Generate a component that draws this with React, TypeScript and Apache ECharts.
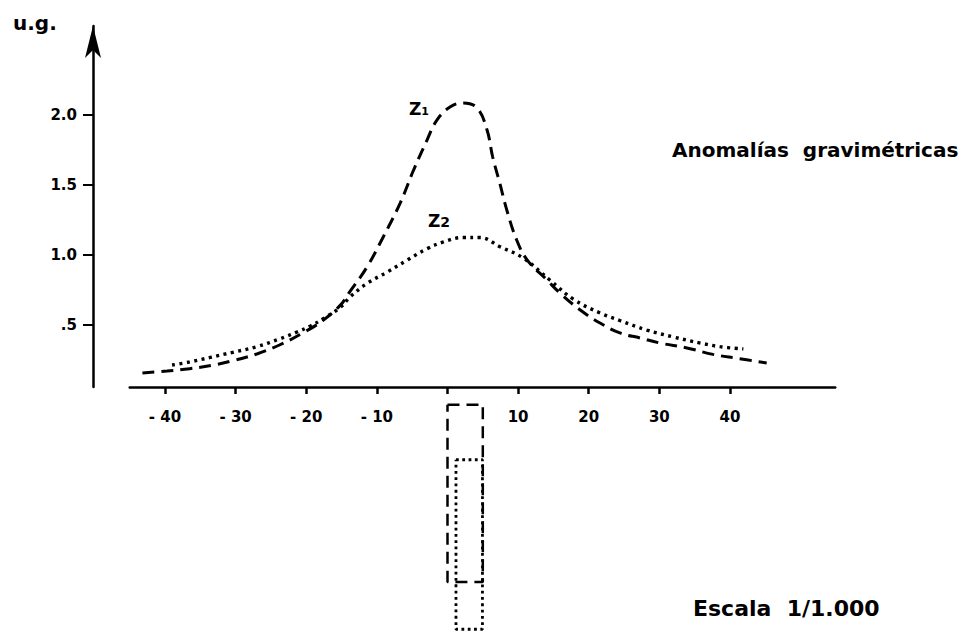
import React, { useEffect, useRef } from "react";
import * as echarts from "echarts";

// Z1 (dashed) : distance (m) vs anomaly (u.g.)
const z1X = [-43.2, -39.7, -36.5, -33.2, -30.4, -27.0, -23.8, -20.5, -17.7, -15.2, -13.8, -11.4, -9.1, -6.7, -4.8, -2.9, -1.5, 0.35, 2.2, 4.2, 5.6, 6.4, 7.4, 8.4, 9.8, 11.3, 14.1, 15.9, 18.8, 21.6, 24.4, 27.3, 30.1, 33.9, 37.6, 41.0, 45.2];
const z1Y = [0.157, 0.171, 0.188, 0.213, 0.245, 0.293, 0.357, 0.443, 0.53, 0.64, 0.74, 0.914, 1.129, 1.371, 1.607, 1.821, 1.964, 2.057, 2.086, 2.05, 1.893, 1.7, 1.514, 1.321, 1.107, 0.964, 0.821, 0.729, 0.607, 0.514, 0.443, 0.407, 0.371, 0.336, 0.29, 0.262, 0.229];

// Z2 (dotted)
const z2X = [-39.0, -36.5, -33.6, -30.4, -27.0, -23.8, -21.3, -19.5, -17.6, -15.2, -13.8, -11.3, -8.5, -5.7, -2.9, -0.6, 2.2, 4.6, 7.4, 10.7, 14.5, 17.8, 21.6, 24.4, 28.2, 32.0, 35.8, 38.6, 41.9];
const z2Y = [0.214, 0.236, 0.268, 0.305, 0.345, 0.4, 0.45, 0.49, 0.545, 0.625, 0.7, 0.8, 0.879, 0.964, 1.045, 1.093, 1.125, 1.125, 1.06, 0.979, 0.821, 0.685, 0.586, 0.532, 0.464, 0.414, 0.371, 0.345, 0.329];

// Source bodies (x in m, depth in m)
const body1X = [0, 5, 5, 0, 0];
const body1D = [2.5, 2.5, 27.6, 27.6, 2.5];
const body2X = [1.2, 4.95, 4.95, 1.2, 1.2];
const body2D = [10.3, 10.3, 34.3, 34.3, 10.3];

const xTicks = [-40, -30, -20, -10, 0, 10, 20, 30, 40];
const xLabelValues = [-40, -30, -20, -10, 10, 20, 30, 40];
const yTicks = [0.5, 1, 1.5, 2];
const yLabelText: Record<string, string> = { "0.5": ".5", "1": "1.0", "1.5": "1.5", "2": "2.0" };

const FONT = "'DejaVu Sans', sans-serif";

export default function App() {
  const ref = useRef<HTMLDivElement>(null);
  useEffect(() => {
    if (!ref.current) return;
    const chart = echarts.init(ref.current, null, { renderer: "svg" });
    const xMin = -45;
    const xMax = 54.9;
    const gLeft = 129.7;
    const gRight = 125.8;
    chart.setOption({
      animation: false,
      backgroundColor: "#fff",
      grid: [
        { left: gLeft, right: gRight, top: 26, bottom: 246 },
        { left: gLeft, right: gRight, top: 387, bottom: 0 },
      ],
      xAxis: [
        {
          type: "value",
          gridIndex: 0,
          min: xMin,
          max: xMax,
          position: "bottom",
          axisLine: { show: true, onZero: false, lineStyle: { color: "#000", width: 2.5 } },
          axisTick: { show: true, length: 7, lineStyle: { color: "#000", width: 2.5 }, customValues: xTicks },
          axisLabel: {
            customValues: xLabelValues,
            margin: 22,
            color: "#000",
            fontFamily: FONT,
            fontWeight: "bold",
            fontSize: 15,
            formatter: (v: number) => (v < 0 ? "- " + Math.abs(v) : String(v)),
          },
          splitLine: { show: false },
        },
        { type: "value", gridIndex: 1, min: xMin, max: xMax, show: false },
      ],
      yAxis: [
        {
          type: "value",
          gridIndex: 0,
          min: 0.057,
          max: 2.636,
          position: "left",
          offset: 36.7,
          axisLine: {
            show: true,
            onZero: false,
            lineStyle: { color: "#000", width: 2.5 },
            symbol: ["none", "arrow"],
            symbolSize: [12, 32],
          },
          axisTick: { show: true, length: 10, lineStyle: { color: "#000", width: 2 }, customValues: yTicks },
          axisLabel: {
            customValues: yTicks,
            margin: 16,
            color: "#000",
            fontFamily: FONT,
            fontWeight: "bold",
            fontSize: 15,
            formatter: (v: number) => yLabelText[String(v)] ?? String(v),
          },
          splitLine: { show: false },
        },
        { type: "value", gridIndex: 1, min: 0, max: 34.83, inverse: true, show: false },
      ],
      series: [
        {
          name: "Z1",
          type: "line",
          xAxisIndex: 0,
          yAxisIndex: 0,
          data: z1X.map((x, i) => [x, z1Y[i]]),
          showSymbol: false,
          smooth: 0.4,
          lineStyle: { color: "#000", width: 3, type: [12, 7] },
        },
        {
          name: "Z2",
          type: "line",
          xAxisIndex: 0,
          yAxisIndex: 0,
          data: z2X.map((x, i) => [x, z2Y[i]]),
          showSymbol: false,
          smooth: 0.4,
          lineStyle: { color: "#000", width: 3.4, type: [3, 4.5] },
        },
        {
          name: "body1",
          type: "line",
          xAxisIndex: 1,
          yAxisIndex: 1,
          data: body1X.map((x, i) => [x, body1D[i]]),
          showSymbol: false,
          lineStyle: { color: "#000", width: 2.5, type: [12, 7] },
        },
        {
          name: "body2",
          type: "line",
          xAxisIndex: 1,
          yAxisIndex: 1,
          data: body2X.map((x, i) => [x, body2D[i]]),
          showSymbol: false,
          lineStyle: { color: "#000", width: 2.8, type: [2.8, 3.5] },
        },
      ],
      graphic: [
        {
          type: "text",
          x: 13,
          y: 13,
          style: { text: "u.g.", font: `bold 20px ${FONT}`, fill: "#000", align: "left", verticalAlign: "top" },
        },
        {
          type: "text",
          x: 672,
          y: 140,
          style: { text: "Anomalías  gravimétricas", font: `bold 20px ${FONT}`, fill: "#000", align: "left", verticalAlign: "top" },
        },
        {
          type: "text",
          x: 693,
          y: 597,
          style: { text: "Escala  1/1.000", font: `bold 22px ${FONT}`, fill: "#000", align: "left", verticalAlign: "top" },
        },
        {
          type: "text",
          x: 409,
          y: 100,
          style: {
            text: "{z|Z}{s|1}",
            fill: "#000",
            align: "left",
            verticalAlign: "top",
            rich: {
              z: { fontFamily: FONT, fontWeight: "bold", fontSize: 17, fill: "#000" },
              s: { fontFamily: FONT, fontWeight: "bold", fontSize: 11, fill: "#000", verticalAlign: "bottom" },
            },
          },
        },
        {
          type: "text",
          x: 428,
          y: 212,
          style: {
            text: "{z|Z}{s|2}",
            fill: "#000",
            align: "left",
            verticalAlign: "top",
            rich: {
              z: { fontFamily: FONT, fontWeight: "bold", fontSize: 17, fill: "#000" },
              s: { fontFamily: FONT, fontWeight: "bold", fontSize: 14, fill: "#000", verticalAlign: "bottom" },
            },
          },
        },
      ],
    });
    return () => chart.dispose();
  }, []);
  return <div ref={ref} style={{ width: 961, height: 633, position: "absolute", left: 0, top: 0 }} />;
}
